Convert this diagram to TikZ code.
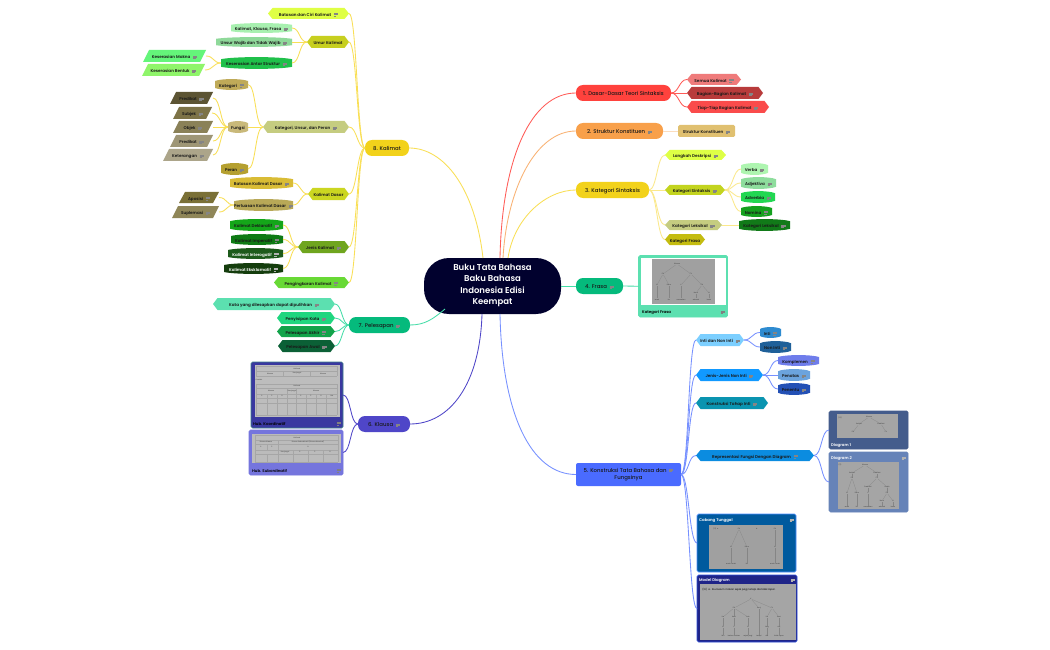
\documentclass[tikz,border=0pt]{standalone}
\usepackage{fontspec}
\setmainfont{Poppins}
\newfontfamily\pmed{Poppins Medium}
\newfontfamily\psemi{Poppins SemiBold}
\usetikzlibrary{fit,calc}
\definecolor{cY}{HTML}{F9DF55}
\definecolor{cT}{HTML}{45DDA8}
\definecolor{cP}{HTML}{4F46C8}
\definecolor{cB}{HTML}{7690FF}
\definecolor{cR}{HTML}{FF5B57}
\definecolor{cO}{HTML}{F9B273}
\definecolor{cOl}{HTML}{FBDDBE}
\definecolor{cYl}{HTML}{FBE88A}
\definecolor{rootc}{HTML}{01012E}
\newcommand\ico{\hspace{2.6pt}{\color{.!25!gray!80!white}\raisebox{0.15pt}{\vbox{\hrule width 4.2pt height .5pt depth 0pt\vskip .65pt\hrule width 4.2pt height .5pt depth 0pt\vskip .65pt\hrule width 2.6pt height .5pt depth 0pt}}}}
\tikzset{
 x=1pt,y=-1pt,
 box/.style={inner sep=0pt,outer sep=0pt,anchor=mid,align=center,font=\fontsize{4.1}{5}\psemi,text=black!90},
 top/.style={box,font=\fontsize{5.4}{7.6}\pmed},
 wht/.style={text=white},
 lnk/.style={line width=0.85pt},
 tinyt/.style={inner sep=0.25pt,font=\fontsize{1.7}{2}\pmed,text=black!70},
 edge/.style={draw=black!48,line width=0.2pt},
 gridl/.style={draw=black!35,line width=0.2pt},
 title/.style={inner sep=0pt,anchor=mid west,font=\fontsize{3.9}{5}\psemi},
 icn/.style={inner sep=0pt,anchor=mid east,font=\fontsize{3.9}{5}\psemi},
 shp/.style={inner sep=0pt,outer sep=0pt},
}
% [node options] name x1 y1 x2 y2 colour text
\newcommand\hexn[8][]{\definecolor{cc}{HTML}{#7}\fill[cc] (#3,{(#4+#6)/2}) -- ({#3+4.5},#4) -- ({#5-4.5},#4) -- (#5,{(#4+#6)/2}) -- ({#5-4.5},#6) -- ({#3+4.5},#6) -- cycle;
 \node[shp,fit={(#3,#4)(#5,#6)}] (#2) {};\node[box,#1] (#2t) at (#2.center) {#8};}
\newcommand\brl[8][]{\definecolor{cc}{HTML}{#7}\fill[cc] (#3,{#4+0.18*(#6-#4)}) .. controls ({#3+0.2*(#5-#3)},{#4-0.05*(#6-#4)}) and ({#5-0.2*(#5-#3)},{#4-0.05*(#6-#4)}) .. (#5,{#4+0.18*(#6-#4)}) -- (#5,{#6-0.18*(#6-#4)}) .. controls ({#5-0.2*(#5-#3)},{#6+0.05*(#6-#4)}) and ({#3+0.2*(#5-#3)},{#6+0.05*(#6-#4)}) .. (#3,{#6-0.18*(#6-#4)}) -- cycle;
 \node[shp,fit={(#3,#4)(#5,#6)}] (#2) {};\node[box,#1] (#2t) at (#2.center) {#8};}
\newcommand\prl[8][]{\definecolor{cc}{HTML}{#7}\fill[cc] ({#3+6},#4) -- (#5,#4) -- ({#5-6},#6) -- (#3,#6) -- cycle;
 \node[shp,fit={(#3,#4)(#5,#6)}] (#2) {};\node[box,#1] (#2t) at (#2.center) {#8};}
\newcommand\rnd[8][7]{\definecolor{cc}{HTML}{#7}\fill[cc,rounded corners=#1pt] (#3,#4) rectangle (#5,#6);
 \node[shp,fit={(#3,#4)(#5,#6)}] (#2) {};\node[top] (#2t) at (#2.center) {#8};}
\newcommand\lc[4]{\draw[lnk,#1] (#2.west) .. controls +({-#4},0) and +(#4,0) .. (#3.east);}
\newcommand\rc[4]{\draw[lnk,#1] (#2.east) .. controls +(#4,0) and +({-#4},0) .. (#3.west);}
% name x1 y1 x2 y2 fill border
\newcommand\card[7]{\definecolor{cc}{HTML}{#6}\definecolor{cd}{HTML}{#7}\fill[cc,draw=cd,line width=.7pt,rounded corners=1.5pt] (#2,#3) rectangle (#4,#5);
 \node[shp,fit={(#2,#3)(#4,#5)}] (#1) {};}
\newcommand\img[5]{\definecolor{cc}{HTML}{#5}\fill[cc] (#1,#2) rectangle (#3,#4);}
\newcommand\tn[4]{\node[tinyt] (#1) at (#2,#3) {#4};}
\newcommand\te[2]{\draw[edge] (#1) -- (#2);}
\newcommand\gl[4]{\draw[gridl] (#1,#2) -- (#3,#4);}
\begin{document}
\begin{tikzpicture}
\useasboundingbox (0,0) rectangle (1050,650);
\fill[white] (0,0) rectangle (1050,650);
% ---------- Root
\fill[rootc,rounded corners=25pt] (424,258) rectangle (561,314);
\node[shp,fit={(424,258)(561,314)}] (root) {};
\node[inner sep=0pt,align=center,text=white,font=\fontsize{8.5}{11.1}\psemi] (roott) at (492.5,285.5) {Buku Tata Bahasa\\Baku Bahasa\\Indonesia Edisi\\Keempat};
% ---------- 8 Kalimat
\rnd{k8}{365}{140}{409}{156}{F2D21B}{8. Kalimat}
\hexn{k81}{268}{8}{349}{19}{DFFF45}{Batasan dan Ciri Kalimat\ico}
\hexn{k82}{307}{36}{349}{48}{C7CF1F}{Umur Kalimat}
\brl{k821}{231}{23}{292}{33}{A8F0B0}{Kalimat, Klausa, Frasa\ico}
\brl{k822}{216}{37}{292}{47}{8FD99A}{Unsur Wajib dan Tidak Wajib\ico}
\brl{k823}{221}{57}{292}{69}{1FC04A}{Keserasian Antar Struktur\ico}
\prl{k8231}{143}{50}{206}{62}{64F57A}{Keserasian Makna\ico}
\prl{k8232}{142}{64}{205}{76}{8FF56A}{Keserasian Bentuk\ico}
\hexn{k83}{263}{121}{349}{133}{C5CC80}{Kategori, Unsur, dan Peran\ico}
\brl{k831}{215}{79}{248}{90}{BFAA58}{Kategori\ico}
\brl{k832}{228}{121}{248}{133}{C9B97A}{Fungsi}
\brl{k833}{221}{163}{248}{175}{B5A030}{Peran\ico}
\prl{p1}{170}{92}{213}{104}{5C5433}{Predikat\ico}
\prl{p2}{173}{107}{212}{119}{7D7347}{Subjek\ico}
\prl{p3}{173}{121}{213}{133}{8A8158}{Objek\ico}
\prl{p4}{170}{135}{213}{147}{9E9676}{Predikat\ico}
\prl{p5}{163}{149}{213}{161}{ACA58A}{Keterangan\ico}
\hexn{k84}{308}{188}{349}{200}{CBD621}{Kalimat Dasar}
\brl{k841}{230}{177}{293}{189}{D9BC35}{Batasan Kalimat Dasar\ico}
\brl{k842}{234}{199}{293}{211}{B8A857}{Perluasan Kalimat Dasar\ico}
\prl{k8421}{179}{192}{219}{203}{7A7036}{Aposisi\ico}
\prl{k8422}{172}{206}{219}{218}{8F8658}{Suplemasi\ico}
\hexn{k85}{298}{241}{349}{253}{6FA51E}{Jenis Kalimat\ico}
\brl{k851}{230}{219}{283}{231}{14A619}{Kalimat Deklaratif\ico}
\brl{k852}{231}{234}{283}{245}{0E7A14}{Kalimat Imperatif\ico}
\brl[wht]{k853}{228}{248}{283}{259}{1D5A1B}{Kalimat Interogatif\ico}
\brl[wht]{k854}{224}{263}{283}{274}{143D0D}{Kalimat Eksklamatif\ico}
\hexn{k86}{274}{277}{349}{288}{68D935}{Pengingkaran Kalimat\ico}
\foreach \c/\d in {k81/8,k82/8,k83/8,k84/8,k85/8,k86/8}{\lc{cY}{k8}{\c}{\d}}
\foreach \c in {k821,k822,k823}{\lc{cY}{k82}{\c}{8}}
\foreach \c in {k8231,k8232}{\lc{cY}{k823}{\c}{8}}
\foreach \c in {k831,k832,k833}{\lc{cY}{k83}{\c}{8}}
\foreach \c in {p1,p2,p3,p4,p5}{\lc{cY}{k832}{\c}{8}}
\foreach \c in {k841,k842}{\lc{cY}{k84}{\c}{8}}
\foreach \c in {k8421,k8422}{\lc{cY}{k842}{\c}{8}}
\foreach \c in {k851,k852,k853,k854}{\lc{cY}{k85}{\c}{8}}
% ---------- 7 Pelesapan
\rnd{k7}{349}{317}{410}{333}{05BA7C}{7. Pelesapan\ico}
\hexn{k71}{213}{298}{335}{310}{5CE0B0}{Kata yang dilesapkan dapat dipulihkan\ico}
\hexn{k72}{277}{312}{335}{324}{1FD67F}{Penyisipan Kata\ico}
\hexn{k73}{277}{326}{335}{337}{12A34A}{Pelesapan Akhir\ico}
\hexn{k74}{278}{340}{335}{352}{0B6036}{Pelesapan Awal\ico}
\foreach \c in {k71,k72,k73,k74}{\lc{cT}{k7}{\c}{7}}
% ---------- 6 Klausa
\rnd{k6}{358}{416}{410}{432}{4F46C8}{6. Klausa\ico}
\card{c61}{251}{362}{343}{428}{3A38A0}{3E7F88}
\img{255}{365}{340}{417}{BDBDBD}
\foreach \a/\b/\cx/\dx in {256/366/337/366,256/371/337/371,256/376/337/376,256/384/337/384,256/388/337/388,256/394/337/394,256/398/337/398,256/403/337/403,256/415/337/415,256/366/256/376,337/366/337/376,283/371/283/376,310/371/310/376,256/384/256/415,337/384/337/415,267/394/267/415,277/394/277/415,287/388/287/415,296/388/296/415,306/394/306/415,316/394/316/415,326/394/326/415}{\gl{\a}{\b}{\cx}{\dx}}
\tn{a1}{297}{368.5}{Kalimat}\tn{a2}{270}{373.5}{Klausa}\tn{a3}{297}{373.5}{Konjungsi}\tn{a4}{323}{373.5}{Klausa}\tn{a5}{259}{379.5}{Contoh:}
\tn{a6}{297}{386}{Kalimat}\tn{a7}{271}{391}{Klausa}\tn{a8}{292}{391}{Konjungsi}\tn{a9}{316}{391}{Klausa}
\tn{a10}{262}{396}{S}\tn{a11}{272}{396}{P}\tn{a12}{282}{396}{O}\tn{a13}{301}{396}{S}\tn{a14}{311}{396}{P}\tn{a15}{321}{396}{O}\tn{a16}{332}{396}{Ket}
\node[title,text=black] (t61) at (253,422.5) {Hub. Koordinatif};
\node[icn,text=black] (i61) at (341,422.5) {\ico};
\card{c62}{249}{430}{343}{475}{7575DD}{7575DD}
\img{252}{434}{341}{463}{BBBBBB}
\foreach \a/\b/\cx/\dx in {255/435/338/435,255/440/338/440,255/444/338/444,255/450/338/450,255/454/338/454,255/462/338/462,255/435/255/462,338/435/338/462,278/440/278/462,267/444/267/450,267/454/267/462,293/450/293/462,308/450/308/462,323/450/323/462}{\gl{\a}{\b}{\cx}{\dx}}
\tn{b1}{297}{437.5}{Kalimat}\tn{b2}{266}{442}{Klausa Utama}\tn{b3}{308}{442}{Klausa Subordinatif (Klausa Nominal)}\tn{b4}{261}{447}{S}\tn{b5}{272}{447}{P}\tn{b6}{308}{447}{O}\tn{b7}{285}{452}{Konjungsi}\tn{b8}{300}{452}{S}\tn{b9}{315}{452}{P}\tn{b10}{330}{452}{O}
\node[title,text=black] (t62) at (252,469.5) {Hub. Subordinatif};
\node[icn,text=black] (i62) at (341,469.5) {\ico};
\lc{cP}{k6}{c61}{8}\lc{cP}{k6}{c62}{8}
% ---------- 1
\rnd{k1}{576}{85}{671}{101}{FF423D}{1. Dasar-Dasar Teori Sintaksis}
\hexn{k11}{687}{74}{741}{85}{EF7B7B}{Semua Kalimat\ico}
\hexn{k12}{687}{87}{763}{99}{B83B3B}{Bagian-Bagian Kalimat\ico}
\hexn{k13}{687}{101}{769}{113}{FA4B4B}{Tiap-Tiap Bagian Kalimat\ico}
\foreach \c in {k11,k12,k13}{\rc{cR}{k1}{\c}{8}}
% ---------- 2
\rnd{k2}{576}{123}{663}{139}{F8A04A}{2. Struktur Konstituen\ico}
\definecolor{cc}{HTML}{E0C070}
\fill[cc,rounded corners=1.5pt] (678,125) rectangle (735,137);
\node[shp,fit={(678,125)(735,137)}] (k21) {};
\node[box] (k21t) at (k21.center) {Struktur Konstituen\ico};
\rc{cOl}{k2}{k21}{7}
% ---------- 3
\rnd{k3}{576}{182}{649}{198}{F2D21B}{3. Kategori Sintaksis}
\hexn{k31}{665}{150}{726}{160}{DEFF45}{Langkah Deskripsi\ico}
\hexn{k32}{665}{185}{725}{195}{C3D41F}{Kategori Sintaksis\ico}
\hexn{k33}{665}{220}{722}{230}{C5CC80}{Kategori Leksikal\ico}
\hexn{k34}{665}{234}{705}{245}{C4BC10}{Kategori Frasa}
\brl{k321}{741}{163}{768}{175}{AEF5B0}{Verba\ico}
\brl{k322}{741}{177}{776}{189}{8EDD9D}{Adjektiva\ico}
\brl{k323}{741}{191}{775}{203}{22D752}{Adverbia\ico}
\brl{k324}{741}{206}{772}{217}{14A01E}{Nomina\ico}
\brl{k331}{739}{219}{790}{231}{117A18}{Kategori Leksikal\ico}
\foreach \c in {k31,k32,k33,k34}{\rc{cYl}{k3}{\c}{8}}
\foreach \c in {k321,k322,k323,k324}{\rc{cYl}{k32}{\c}{8}}
\rc{cYl}{k33}{k331}{8}
% ---------- 4
\rnd{k4}{576}{278}{623}{294}{05BA7C}{4. Frasa\ico}
\card{k41}{638.5}{255.5}{727.5}{317}{5CE0B0}{5CE0B0}
\fill[white] (640.5,258) rectangle (725.5,305);
\img{652}{259}{715}{304}{A0A0A0}
\tn{f0}{677}{264}{Klausa}\tn{f1}{663}{274}{FN}\tn{f2}{691}{274}{FV}\tn{f3}{657}{285}{N}\tn{f4}{669}{285}{Dem}\tn{f5}{681}{285}{V}\tn{f6}{702}{285}{FN}\tn{f7}{696}{293}{Num}\tn{f8}{709}{293}{N}\tn{f9}{657}{299.5}{anak}\tn{f10}{669}{299.5}{itu}\tn{f11}{681}{299.5}{memakan}\tn{f12}{696}{299.5}{sebuah}\tn{f13}{709}{299.5}{buku}
\foreach \a/\b in {f0/f1,f0/f2,f1/f3,f1/f4,f2/f5,f2/f6,f6/f7,f6/f8,f3/f9,f4/f10,f5/f11,f7/f12,f8/f13}{\te{\a}{\b}}
\node[title,text=black] (t41) at (642,311) {Kategori Frasa};
\node[icn,text=black] (i41) at (725,311) {\ico};
\draw[lnk,draw=cT] (root.east) -- (k4.west);
\draw[lnk,draw=cT] (k4.east) -- (k41.west);
% ---------- 5
\rnd[2]{k5}{576}{463}{681}{486}{4A6BFF}{}
\node[top,anchor=center] (k5x) at (628.5,474.5) {5. Konstruksi Tata Bahasa dan\ico\\Fungsinya};
\hexn{k51}{696}{334}{744}{346}{7CCFFF}{Inti dan Non Inti\ico}
\brl{k511}{760}{327}{781}{338}{2E8BD0}{Inti\ico}
\brl{k512}{760}{341}{791}{353}{1F6099}{Non Inti\ico}
\hexn{k52}{696}{369}{763}{381}{1199FF}{Jenis-Jenis Non Inti\ico}
\brl{k521}{778}{355}{819}{366}{6F7DEB}{Komplemen\ico}
\brl{k522}{778}{369}{810}{381}{6BA3DD}{Penatas\ico}
\brl{k523}{778}{383}{810}{395}{2350B5}{Penentu\ico}
\hexn{k53}{696}{397}{768}{409}{0A94B0}{Konstruksi Tahap Inti\ico}
\hexn{k54}{696}{450}{814}{461}{0B8CE0}{Representasi Fungsi Dengan Diagram\ico}
% Diagram 1
\card{d1}{829}{411}{908}{449}{445C8C}{445C8C}
\img{837}{414}{898}{438}{A5A5A5}
\tn{g0}{869}{417}{Klausa}\tn{g1}{859}{424}{Subjek}\tn{g2}{881}{424}{Predikat}\tn{g3}{853}{432}{FN}\tn{g4}{886}{432}{FV}\tn{g5}{840}{418}{(10)}
\foreach \a/\b in {g0/g1,g0/g2,g1/g3,g2/g4}{\te{\a}{\b}}
\node[title,text=white] (td1) at (831,443.5) {Diagram 1};
% Diagram 2
\card{d2}{829}{452}{908}{512}{6683B8}{6683B8}
\img{838}{462}{899}{509}{A5A5A5}
\tn{h0}{865}{465}{Klausa}\tn{h1}{852}{473}{Subjek}\tn{h2}{877}{473}{Predikat}\tn{h3}{852}{478}{FN}\tn{h4}{877}{478}{FV}\tn{h5}{847}{493}{N}\tn{h6}{857}{493}{Dem}\tn{h7}{868}{487}{Predikat}\tn{h8}{887}{487}{Objek}\tn{h9}{868}{493}{V}\tn{h10}{887}{493}{FN}\tn{h11}{882}{501}{Num}\tn{h12}{893}{501}{N}\tn{h13}{847}{507}{anak}\tn{h14}{857}{507}{itu}\tn{h15}{868}{507}{memakan}\tn{h16}{882}{507}{sebuah}\tn{h17}{893}{507}{buku}\tn{h18}{840}{465}{(11)}
\foreach \a/\b in {h0/h1,h0/h2,h1/h3,h2/h4,h3/h5,h3/h6,h4/h7,h4/h8,h7/h9,h8/h10,h10/h11,h10/h12,h5/h13,h6/h14,h9/h15,h11/h16,h12/h17}{\te{\a}{\b}}
\node[title,text=white] (td2) at (831,457) {Diagram 2};
\node[icn,text=white] (id2) at (906,457) {\ico};
% Cabang Tunggal
\card{d3}{697}{514}{796}{572}{005A9E}{4F8FFF}
\img{709}{525}{783}{569}{A0A0A0}
\tn{j0}{716}{529}{(11)\ \ a.}\tn{j1}{739}{529}{FN}\tn{j2}{757}{529}{b.}\tn{j3}{775}{529}{FN}\tn{j4}{731}{547}{N}\tn{j5}{747}{547}{Dem}\tn{j6}{775}{547}{N}\tn{j7}{731}{564}{anak-anak}\tn{j8}{747}{564}{itu}\tn{j9}{775}{564}{anak-anak}
\foreach \a/\b in {j1/j4,j1/j5,j3/j6,j4/j7,j5/j8,j6/j9}{\te{\a}{\b}}
\node[title,text=white] (td3) at (699,519) {Cabang Tunggal};
\node[icn,text=white] (id3) at (794,519) {\ico};
% Model Diagram
\card{d4}{697}{575}{797}{642}{1F2488}{2F4FD8}
\img{700}{584}{796}{640}{A5A5A5}
\node[tinyt,anchor=west,font={\fontsize{2.5}{3}\rmfamily},text=black] (m) at (702,590) {(16)\ \ a.\ \ Ibu belum makan sejak pagi, tetapi dia tidak lapar.};
\tn{m0}{751}{599}{K}\tn{m1}{734}{608}{FN}\tn{m2}{759}{608}{Konj}\tn{m3}{772}{608}{FV}\tn{m4}{723}{617}{Ke}\tn{m5}{734}{617}{Kont}\tn{m6}{748}{617}{Adv}\tn{m7}{767}{617}{Ke}\tn{m8}{779}{617}{Kont}\tn{m9}{723}{627}{N}\tn{m10}{734}{627}{V}\tn{m11}{748}{627}{N}\tn{m12}{767}{627}{Neg}\tn{m13}{779}{627}{Adj}\tn{m14}{723}{636}{Ibu}\tn{m15}{734}{636}{belum makan}\tn{m16}{748}{636}{sejak pagi}\tn{m17}{759}{636}{tetapi}\tn{m18}{767}{636}{dia}\tn{m19}{779}{636}{tidak lapar}
\foreach \a/\b in {m0/m1,m0/m2,m0/m3,m1/m4,m1/m5,m1/m6,m3/m7,m3/m8,m4/m9,m5/m10,m6/m11,m7/m12,m8/m13,m9/m14,m10/m15,m11/m16,m2/m17,m12/m18,m13/m19}{\te{\a}{\b}}
\node[title,text=white] (td4) at (699,579) {Model Diagram};
\node[icn,text=white] (id4) at (795,579) {\ico};
\foreach \c in {k51,k52,k53,k54,d3,d4}{\rc{cB}{k5}{\c}{8}}
\foreach \c in {k511,k512}{\rc{cB}{k51}{\c}{8}}
\foreach \c in {k521,k522,k523}{\rc{cB}{k52}{\c}{8}}
\foreach \c in {d1,d2}{\rc{cB}{k54}{\c}{8}}
% ---------- root edges
\draw[lnk,draw=cR] ([xshift=7.5pt]root.north) .. controls +(2,-100) and +(-45,0) .. (k1.west);
\draw[lnk,draw=cO] ([xshift=10.5pt]root.north) .. controls +(4,-70) and +(-40,0) .. (k2.west);
\draw[lnk,draw=cY] ([xshift=15.5pt]root.north) .. controls +(6,-40) and +(-30,0) .. (k3.west);
\draw[lnk,draw=cY] ([xshift=-9.5pt]root.north) .. controls +(-8,-70) and +(35,0) .. (k8.east);
\draw[lnk,draw=cB] ([xshift=7.5pt]root.south) .. controls +(2,100) and +(-45,0) .. (k5.west);
\draw[lnk,draw=cP] ([xshift=-10.5pt]root.south) .. controls +(-2,70) and +(40,0) .. (k6.east);
\draw[lnk,draw=cT] ([xshift=-47.5pt,yshift=5pt]root.south) .. controls +(-12,10) and +(15,0) .. (k7.east);
\end{tikzpicture}
\end{document}
